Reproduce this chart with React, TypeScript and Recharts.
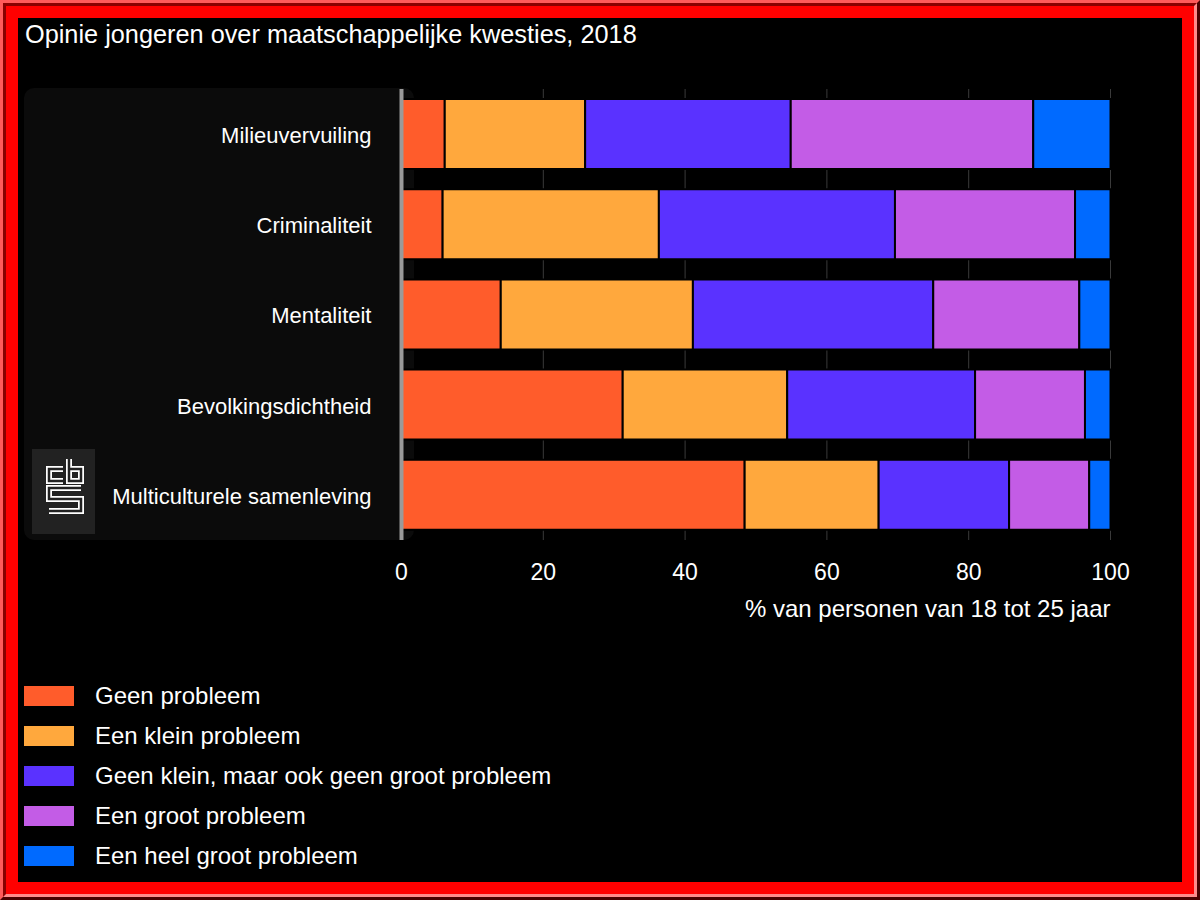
import React from "react";
import { BarChart, Bar, XAxis, YAxis, CartesianGrid, Legend } from "recharts";

const categories = [
  "Milieuvervuiling",
  "Criminaliteit",
  "Mentaliteit",
  "Bevolkingsdichtheid",
  "Multiculturele samenleving",
];
const geenProbleem = [6.1, 5.8, 14.0, 31.2, 48.4];
const kleinProbleem = [19.8, 30.5, 27.1, 23.2, 18.9];
const middenProbleem = [29.0, 33.3, 33.9, 26.5, 18.4];
const grootProbleem = [34.2, 25.4, 20.6, 15.5, 11.3];
const heelGrootProbleem = [10.9, 5.0, 4.4, 3.6, 3.0];
const xTicks = [0, 20, 40, 60, 80, 100];

const seriesNames = [
  "Geen probleem",
  "Een klein probleem",
  "Geen klein, maar ook geen groot probleem",
  "Een groot probleem",
  "Een heel groot probleem",
];
const seriesKeys = ["s1", "s2", "s3", "s4", "s5"];
const seriesColors = ["#ff5c2b", "#ffa83d", "#5a32ff", "#c35ce6", "#006aff"];
const seriesValues = [geenProbleem, kleinProbleem, middenProbleem, grootProbleem, heelGrootProbleem];

const data = categories.map((name, i) => {
  const row: Record<string, any> = { name };
  seriesKeys.forEach((k, j) => {
    row[k] = seriesValues[j][i];
  });
  return row;
});

const FONT = "'Liberation Sans', Arial, Helvetica, sans-serif";

const LegendContent = (props: any) => {
  const payload = [...(props.payload || [])].sort(
    (a: any, b: any) => seriesNames.indexOf(a.value) - seriesNames.indexOf(b.value)
  );
  return (
    <div style={{ fontFamily: FONT }}>
      {payload.map((p: any, i: number) => (
        <div key={i} style={{ display: "flex", alignItems: "center", height: 40 }}>
          <div style={{ width: 50, height: 20, background: p.color, marginRight: 21 }} />
          <span style={{ color: "#fff", fontSize: 24, lineHeight: "24px", whiteSpace: "nowrap" }}>{p.value}</span>
        </div>
      ))}
    </div>
  );
};

const AxisTitle = (props: any) => {
  const vb = props.viewBox || {};
  return (
    <text
      x={vb.x + vb.width}
      y={617}
      textAnchor="end"
      fill="#fff"
      fontSize={24}
      fontFamily={FONT}
    >
      % van personen van 18 tot 25 jaar
    </text>
  );
};

export default function App() {
  return (
    <div style={{ position: "absolute", left: 0, top: 0, width: 1200, height: 900, overflow: "hidden" }}>
      {/* frame */}
      <div
        style={{
          position: "absolute",
          left: 0,
          top: 0,
          width: 1200,
          height: 900,
          boxSizing: "border-box",
          borderStyle: "solid",
          borderWidth: 3,
          borderColor: "#ff5a5a #4a0000 #4a0000 #ff5a5a",
          background: "#ff0000",
        }}
      >
        <div
          style={{
            position: "absolute",
            left: 0,
            top: 0,
            right: 0,
            bottom: 0,
            boxSizing: "border-box",
            borderStyle: "solid",
            borderWidth: 3,
            borderColor: "#8a0000 #ff8a8a #ff8a8a #8a0000",
          }}
        >
          <div style={{ position: "absolute", left: 12, top: 12, right: 12, bottom: 12, background: "#000" }} />
        </div>
      </div>
      {/* title */}
      <div
        style={{
          position: "absolute",
          left: 25,
          top: 22,
          color: "#fff",
          fontFamily: FONT,
          fontSize: 25.3,
          lineHeight: "24px",
          whiteSpace: "nowrap",
        }}
      >
        Opinie jongeren over maatschappelijke kwesties, 2018
      </div>
      {/* label panel */}
      <div
        style={{
          position: "absolute",
          left: 24,
          top: 88,
          width: 390,
          height: 452,
          background: "#0b0b0b",
          borderRadius: 10,
        }}
      />
      {/* logo */}
      <svg style={{ position: "absolute", left: 32, top: 449 }} width={63} height={85}>
        <rect x={0} y={0} width={63} height={85} fill="#222" />
        <g transform="translate(-32,-449)" fill="none" strokeLinejoin="miter" strokeLinecap="butt">
          <path d="M63,469 H49 V481 H63" stroke="#fff" strokeWidth={6} />
          <path d="M69,459 V481 H81 V469 H69" stroke="#fff" strokeWidth={6} />
          <path d="M81,488 H49 V499 H81 V511 H49" stroke="#fff" strokeWidth={6} />
          <path d="M63,469 H49 V481 H63" stroke="#222" strokeWidth={2.5} />
          <path d="M69,459 V481 H81 V469 H69" stroke="#222" strokeWidth={2.5} />
          <path d="M81,488 H49 V499 H81 V511 H49" stroke="#222" strokeWidth={2.5} />
        </g>
      </svg>
      <div style={{ position: "absolute", left: 0, top: 0 }}>
        <BarChart
          width={1200}
          height={900}
          data={data}
          layout="vertical"
          margin={{ top: 89, right: 89.5, left: 21.5, bottom: 330 }}
          barSize={70}
        >
          <CartesianGrid horizontal={false} vertical={true} stroke="#3a3a3a" strokeWidth={1} />
          <XAxis
            type="number"
            domain={[0, 100]}
            ticks={xTicks}
            axisLine={false}
            tickLine={false}
            tickSize={0}
            tickMargin={24}
            height={30}
            tick={{ fill: "#fff", fontSize: 23, fontFamily: FONT }}
            label={<AxisTitle />}
            interval={0}
          />
          <YAxis
            type="category"
            dataKey="name"
            width={380}
            axisLine={{ stroke: "#9a9a9a", strokeWidth: 4 }}
            tickLine={false}
            tickSize={0}
            tickMargin={30}
            tick={{ fill: "#fff", fontSize: 22, fontFamily: FONT, dy: 1 }}
            interval={0}
          />
          {seriesKeys.map((k, j) => (
            <Bar
              key={k}
              dataKey={k}
              name={seriesNames[j]}
              stackId="a"
              fill={seriesColors[j]}
              stroke="#000"
              strokeWidth={2}
              isAnimationActive={false}
            />
          ))}
          <Legend
            layout="vertical"
            align="center"
            verticalAlign="middle"
            content={<LegendContent />}
            wrapperStyle={{ left: 24, top: 676, width: 700, height: 200 }}
          />
        </BarChart>
      </div>
    </div>
  );
}
